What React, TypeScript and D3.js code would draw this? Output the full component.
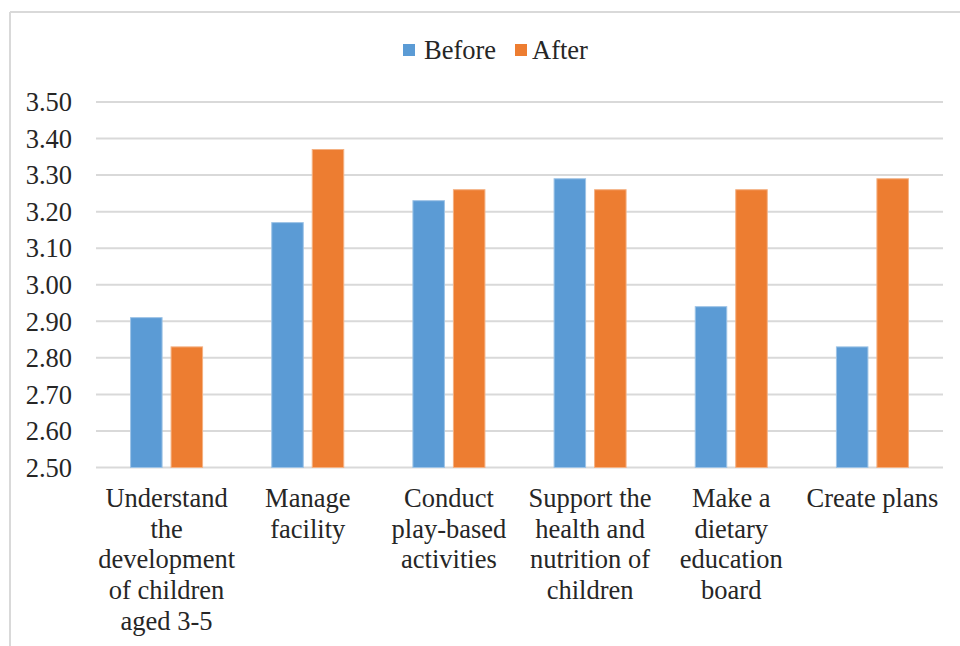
import * as d3 from "d3";

// chart data
const categories = [
	"Understand the development of children aged 3-5",
	"Manage facility",
	"Conduct play-based activities",
	"Support the health and nutrition of children",
	"Make a dietary education board",
	"Create plans",
];

// wrapped tick labels, as in the original
const categoryLines = [
	["Understand", "the", "development", "of children", "aged 3-5"],
	["Manage", "facility"],
	["Conduct", "play-based", "activities"],
	["Support the", "health and", "nutrition of", "children"],
	["Make a", "dietary", "education", "board"],
	["Create plans"],
];

const series = ["Before", "After"];
const beforeValues = [2.91, 3.17, 3.23, 3.29, 2.94, 2.83];
const afterValues = [2.83, 3.37, 3.26, 3.26, 3.26, 3.29];
const yTicks = [2.5, 2.6, 2.7, 2.8, 2.9, 3.0, 3.1, 3.2, 3.3, 3.4, 3.5];

const colors: Record<string, string> = { Before: "#5B9BD5", After: "#ED7D31" };
const strokes: Record<string, string> = { Before: "#9DC3E6", After: "#F4B183" };

const W = 960;
const H = 646;
const FONT = '"Liberation Serif", "DejaVu Serif", serif';
const FS = 26.5;

export default function App() {
	const left = 96;
	const right = 943;
	const top = 102;
	const bottom = 467.5;

	const y = d3.scaleLinear().domain([2.5, 3.5]).range([bottom, top]);

	const x0 = d3
		.scaleBand<string>()
		.domain(categories)
		.range([left, right])
		.paddingInner(0.49)
		.paddingOuter(0.245);

	const x1 = d3
		.scaleBand<string>()
		.domain(series)
		.range([0, x0.bandwidth()])
		.paddingInner(0.222);

	const rows = categories.map((c, i) => ({
		category: c,
		values: { Before: beforeValues[i], After: afterValues[i] } as Record<string, number>,
	}));

	const txt = { fontFamily: FONT };

	return (
		<svg
			width={W}
			height={H}
			style={{ position: "absolute", left: 0, top: 0, background: "#fff", fontFamily: FONT }}
		>
			{/* chart frame (runs off the page on right and bottom) */}
			<line x1={10} y1={12} x2={W} y2={12} stroke="#D9D9D9" strokeWidth={2} />
			<line x1={10} y1={12} x2={10} y2={H} stroke="#D9D9D9" strokeWidth={2} />

			{/* legend */}
			<g>
				<rect x={403} y={44} width={12} height={12} fill={colors.Before} />
				<text x={424} y={59} fontSize={FS} fill="#262626" style={txt}>
					Before
				</text>
				<rect x={515} y={44} width={12} height={12} fill={colors.After} />
				<text x={532} y={59} fontSize={FS} fill="#262626" style={txt}>
					After
				</text>
			</g>

			{/* gridlines + y labels */}
			{yTicks.map((t) => (
				<g key={t}>
					<line
						x1={left}
						x2={right}
						y1={y(t)}
						y2={y(t)}
						stroke="#D9D9D9"
						strokeWidth={2}
					/>
					<text
						x={72}
						y={y(t)}
						dy="0.35em"
						textAnchor="end"
						fontSize={FS}
						fill="#262626"
						style={txt}
					>
						{d3.format(".2f")(t)}
					</text>
				</g>
			))}

			{/* bars */}
			{rows.map((r) => (
				<g key={r.category} transform={`translate(${x0(r.category)},0)`}>
					{series.map((s) => (
						<rect
							key={s}
							x={x1(s)}
							y={y(r.values[s])}
							width={x1.bandwidth()}
							height={y(2.5) - y(r.values[s])}
							fill={colors[s]}
							stroke={strokes[s]}
							strokeWidth={1}
						/>
					))}
				</g>
			))}

			{/* category labels */}
			{categories.map((c, i) => (
				<text
					key={c}
					x={(x0(c) ?? 0) + x0.bandwidth() / 2}
					y={507}
					textAnchor="middle"
					fontSize={FS}
					fill="#262626"
					style={txt}
				>
					{categoryLines[i].map((line, j) => (
						<tspan key={j} x={(x0(c) ?? 0) + x0.bandwidth() / 2} dy={j === 0 ? 0 : 30.7}>
							{line}
						</tspan>
					))}
				</text>
			))}
		</svg>
	);
}
